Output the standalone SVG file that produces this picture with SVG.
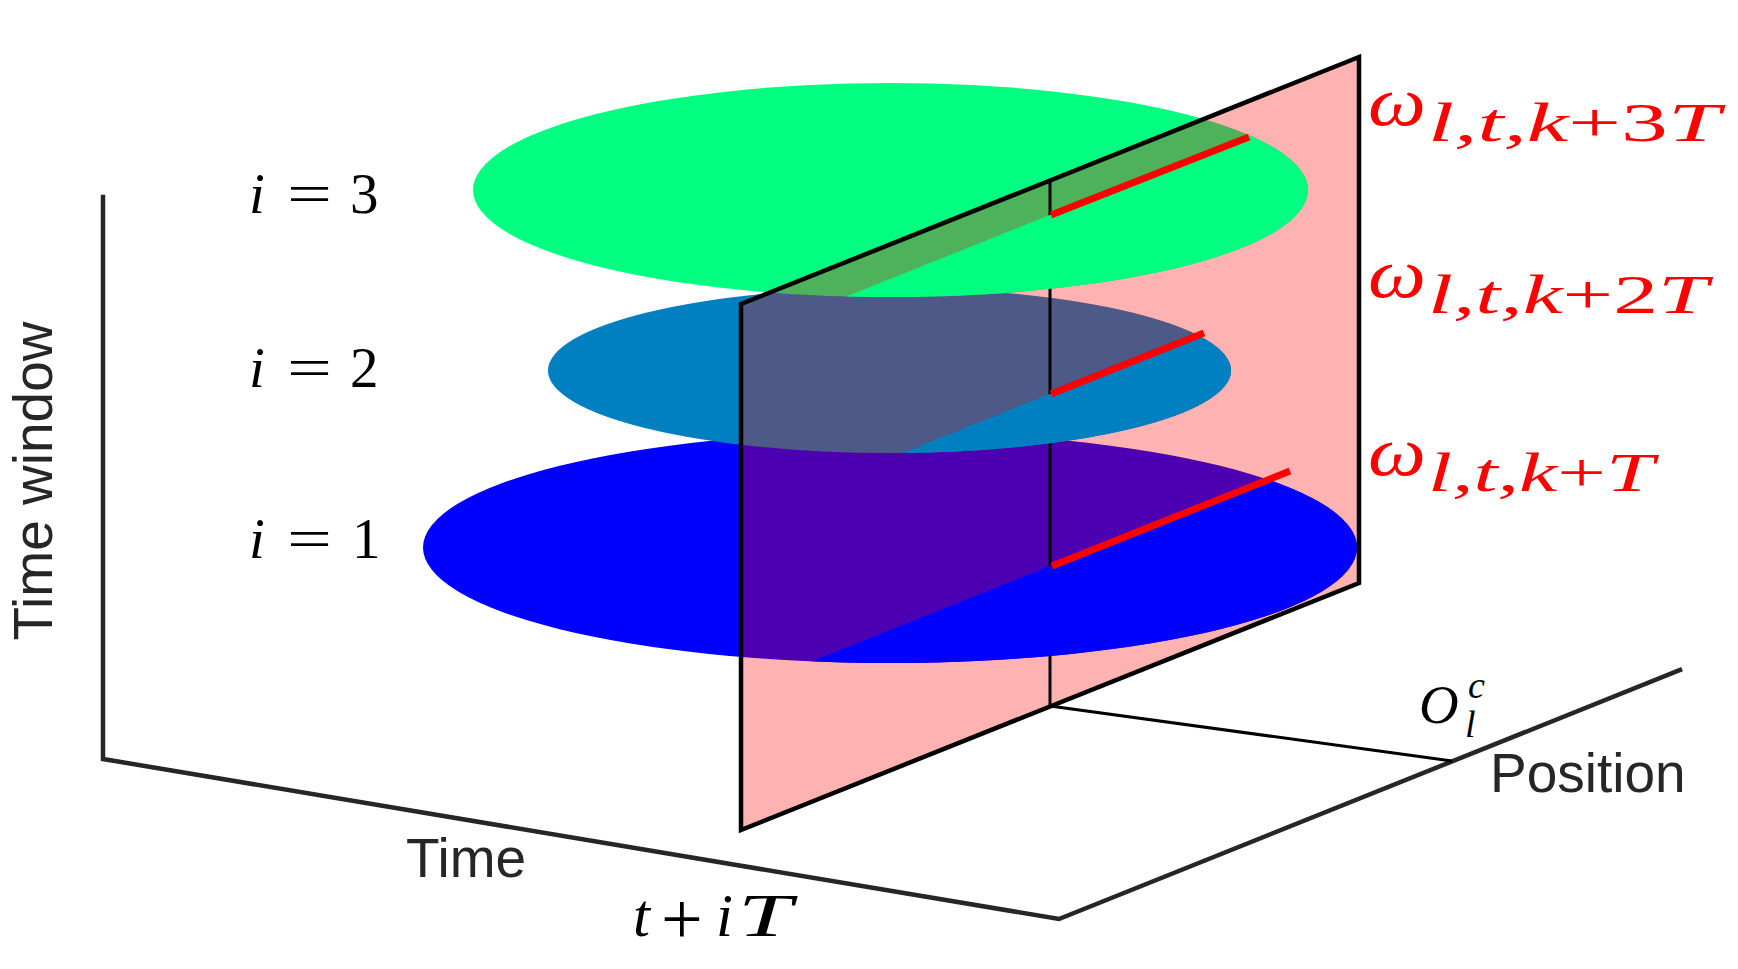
<svg xmlns="http://www.w3.org/2000/svg" width="1738" height="969" viewBox="0 0 1738 969">
  <style>
    .axis { stroke: #262626; stroke-width: 4.5; fill: none; stroke-linecap: square; }
    .edge { stroke: #000; stroke-width: 4.5; fill: none; stroke-linejoin: miter; }
    .thin { stroke: #000; stroke-width: 3; fill: none; }
    .red { stroke: #ff0000; stroke-width: 7; fill: none; }
    .lbl { font-family: "Liberation Sans", Arial, sans-serif; font-size: 55px; fill: #262626; }
    .math { font-family: "Liberation Serif", "Times New Roman", serif; fill: #000; }
    .it { font-style: italic; }
    .up { font-style: normal; }
    .om { font-family: "Liberation Serif", "Times New Roman", serif; fill: #ff0000; font-style: italic; }
  </style>
  <defs>
    <ellipse id="dBlue" cx="890" cy="547.5" rx="467" ry="115.5"/>
    <ellipse id="dTeal" cx="889.5" cy="370.5" rx="341.5" ry="82.5"/>
    <ellipse id="dGreen" cx="890.5" cy="190" rx="417.5" ry="107"/>
    <clipPath id="frontBlue"><polygon points="300,866 1450,406 1450,800 300,800"/></clipPath>
    <clipPath id="frontTeal"><polygon points="300,694 1450,234 1450,700 300,700"/></clipPath>
    <clipPath id="frontGreen"><polygon points="300,515 1450,55 1450,520 300,520"/></clipPath>
  </defs>

  <g id="axes">
    <polyline class="axis" points="103,197 103,759 1059,919 1680,670"/>
  </g>

  <g id="disks-back">
    <use href="#dBlue" fill="#0000ff"/>
    <use href="#dTeal" fill="#0080c0"/>
    <use href="#dGreen" fill="#00ff80"/>
  </g>

  <g id="plane">
    <polygon points="741,304 1359,57 1359,583 741,830" fill="#ff0000" fill-opacity="0.3"/>
  </g>

  <g id="connectors">
    <line class="thin" x1="1050" y1="181" x2="1050" y2="706"/>
    <line class="thin" x1="1050" y1="706" x2="1452" y2="761"/>
  </g>

  <g id="disks-front">
    <use href="#dBlue" fill="#0000ff" clip-path="url(#frontBlue)"/>
    <use href="#dTeal" fill="#0080c0" clip-path="url(#frontTeal)"/>
    <use href="#dGreen" fill="#00ff80" clip-path="url(#frontGreen)"/>
  </g>

  <g id="plane-edges">
    <polygon class="edge" points="741,304 1359,57 1359,583 741,830"/>
  </g>

  <g id="red-lines">
    <line class="red" x1="1051" y1="215" x2="1249" y2="137"/>
    <line class="red" x1="1051" y1="394" x2="1204" y2="333"/>
    <line class="red" x1="1052" y1="566" x2="1290" y2="471"/>
  </g>

  <g id="labels">
    <text class="lbl" transform="translate(52,481) rotate(-90)" text-anchor="middle">Time window</text>
    <text class="lbl" x="406" y="877">Time</text>
    <text class="lbl" x="1490" y="792">Position</text>
  </g>

  <g id="i3"><text class="math" font-size="57" y="213"><tspan class="it" x="249">i</tspan><tspan x="287" textLength="45" lengthAdjust="spacingAndGlyphs">=</tspan><tspan x="350">3</tspan></text></g>
  <g id="i2"><text class="math" font-size="57" y="387"><tspan class="it" x="249">i</tspan><tspan x="287" textLength="45" lengthAdjust="spacingAndGlyphs">=</tspan><tspan x="350">2</tspan></text></g>
  <g id="i1"><text class="math" font-size="57" y="558"><tspan class="it" x="249">i</tspan><tspan x="287" textLength="45" lengthAdjust="spacingAndGlyphs">=</tspan><tspan x="352">1</tspan></text></g>

  <g id="tiT"><text class="math" font-size="61" y="936"><tspan class="it" x="633">t</tspan><tspan x="661" y="944" font-size="74">+</tspan><tspan class="it" x="716" y="936">i</tspan><tspan class="it" x="738" textLength="54" lengthAdjust="spacingAndGlyphs">T</tspan></text></g>

  <g id="Olc"><text class="math" font-size="55" y="723"><tspan class="it" x="1419">O</tspan><tspan class="it" font-size="38" x="1465" y="737">l</tspan><tspan class="it" font-size="38" x="1468" y="698">c</tspan></text></g>

  <g id="w3">
    <text class="om" font-size="70" x="1368" y="125" textLength="58" lengthAdjust="spacingAndGlyphs">ω</text>
    <text class="om" font-size="55" x="1428" y="141" textLength="292" lengthAdjust="spacingAndGlyphs">l,t,k<tspan class="up">+3</tspan>T</text>
  </g>
  <g id="w2">
    <text class="om" font-size="70" x="1368" y="297" textLength="58" lengthAdjust="spacingAndGlyphs">ω</text>
    <text class="om" font-size="55" x="1428" y="313" textLength="280" lengthAdjust="spacingAndGlyphs">l,t,k<tspan class="up">+2</tspan>T</text>
  </g>
  <g id="w1">
    <text class="om" font-size="70" x="1368" y="475" textLength="58" lengthAdjust="spacingAndGlyphs">ω</text>
    <text class="om" font-size="55" x="1428" y="491" textLength="226" lengthAdjust="spacingAndGlyphs">l,t,k<tspan class="up">+</tspan>T</text>
  </g>
</svg>
